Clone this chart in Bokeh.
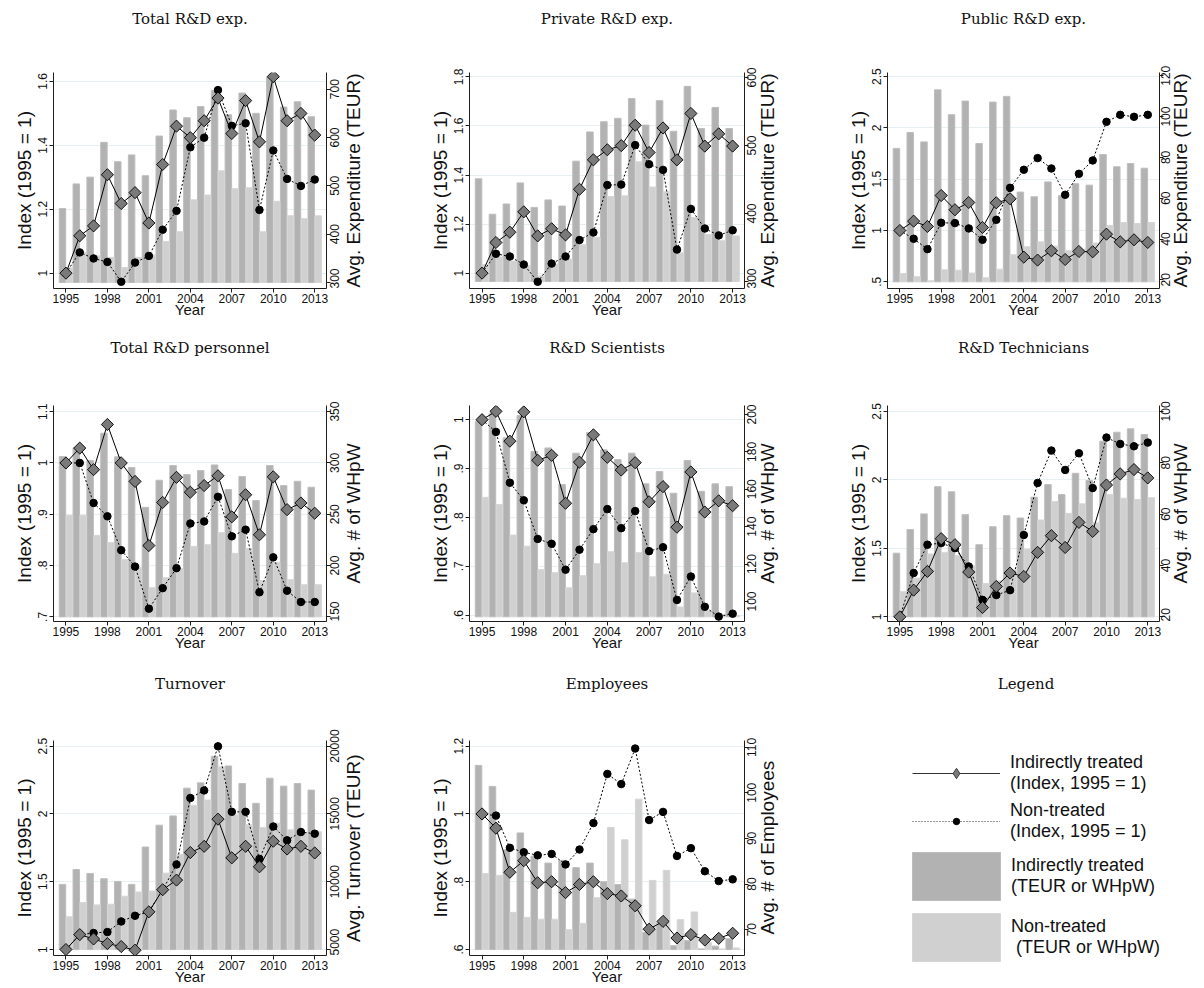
import math
from bokeh.plotting import figure
from bokeh.models import (Range1d, LinearAxis, FixedTicker, Legend, LegendItem,
                          ColumnDataSource, CustomJSTickFormatter)
from bokeh.layouts import row, column
from bokeh.embed import file_html
from bokeh.resources import INLINE

years = list(range(1995, 2014))
x_ticks = [1995, 1998, 2001, 2004, 2007, 2010, 2013]

# ---- Total R&D expenditure ----
tot_exp_ind_bar = [453, 504, 518, 590, 550, 564, 521, 603, 657, 641, 664, 697, 647, 692, 650, 725, 663, 674, 643]
tot_exp_non_bar = [330, 362, 355, 352, 331, 352, 357, 385, 405, 471, 481, 531, 494, 496, 405, 468, 438, 432, 438]
tot_exp_ind_idx = [1.0, 1.117, 1.148, 1.308, 1.218, 1.252, 1.157, 1.340, 1.460, 1.424, 1.477, 1.548, 1.437, 1.540, 1.411, 1.615, 1.477, 1.500, 1.432]
tot_exp_non_idx = [1.0, 1.065, 1.046, 1.035, 0.973, 1.033, 1.054, 1.136, 1.195, 1.394, 1.424, 1.573, 1.461, 1.469, 1.198, 1.384, 1.295, 1.273, 1.293]

# ---- Private R&D expenditure ----
priv_ind_bar = [451, 399, 414, 445, 409, 420, 411, 477, 520, 535, 540, 569, 530, 566, 521, 587, 525, 556, 525]
priv_non_bar = [325, 336, 330, 323, 308, 325, 333, 354, 365, 425, 426, 476, 439, 432, 342, 394, 369, 360, 367]
priv_ind_idx = [1.0, 1.125, 1.167, 1.250, 1.152, 1.181, 1.156, 1.342, 1.462, 1.503, 1.520, 1.603, 1.492, 1.592, 1.462, 1.651, 1.518, 1.568, 1.518]
priv_non_idx = [1.0, 1.079, 1.068, 1.035, 0.965, 1.039, 1.068, 1.135, 1.166, 1.359, 1.361, 1.522, 1.444, 1.421, 1.096, 1.262, 1.182, 1.154, 1.175]

# ---- Public R&D expenditure ----
pub_ind_bar = [84.4, 92.2, 87.6, 113.1, 100.9, 107.6, 86.8, 107.1, 109.9, 63.0, 60.7, 68.0, 61.2, 67.1, 66.4, 81.4, 75.4, 77.0, 74.7]
pub_non_bar = [23.1, 21.5, 19.5, 24.9, 24.7, 23.3, 21.0, 25.2, 32.3, 36.2, 38.6, 36.5, 34.2, 35.0, 38.0, 46.6, 48.1, 47.6, 48.1]
pub_ind_idx = [1.0, 1.091, 1.039, 1.341, 1.202, 1.273, 1.029, 1.270, 1.309, 0.740, 0.711, 0.802, 0.717, 0.795, 0.792, 0.964, 0.889, 0.909, 0.883]
pub_non_idx = [1.0, 0.919, 0.818, 1.075, 1.072, 1.020, 0.909, 1.104, 1.416, 1.592, 1.706, 1.605, 1.348, 1.553, 1.683, 2.060, 2.128, 2.109, 2.128]

# ---- Total R&D personnel ----
pers_ind_bar = [306.2, 314.6, 302.3, 328.9, 305.9, 295.4, 256.7, 283.1, 297.4, 288.6, 292.5, 298.0, 274.0, 286.7, 263.3, 297.4, 277.9, 282.1, 276.3]
pers_non_bar = [248.9, 248.9, 229.4, 222.3, 205.7, 198.2, 178.4, 188.1, 196.9, 218.7, 220.3, 232.0, 211.9, 216.7, 185.2, 203.1, 186.2, 181.3, 181.3]
pers_ind_idx = [1.0, 1.029, 0.987, 1.075, 1.0, 0.964, 0.839, 0.923, 0.972, 0.943, 0.956, 0.975, 0.895, 0.938, 0.860, 0.973, 0.909, 0.922, 0.902]
pers_non_idx = [1.0, 1.0, 0.922, 0.896, 0.830, 0.798, 0.716, 0.756, 0.795, 0.882, 0.886, 0.934, 0.857, 0.870, 0.748, 0.816, 0.751, 0.729, 0.729]

# ---- R&D scientists ----
sci_ind_bar = [196.4, 200.4, 187.5, 199.5, 180.2, 182.1, 162.5, 179.3, 190.4, 181.1, 175.9, 179.3, 162.9, 169.5, 157.9, 175.4, 158.9, 162.9, 161.4]
sci_non_bar = [155.7, 151.8, 135.5, 129.6, 117.0, 115.4, 107.3, 113.8, 120.2, 126.6, 120.7, 126.1, 113.2, 114.5, 97.1, 104.6, 95.0, 92.9, 92.5]
sci_ind_idx = [1.0, 1.017, 0.956, 1.016, 0.917, 0.927, 0.829, 0.913, 0.969, 0.923, 0.897, 0.912, 0.832, 0.863, 0.780, 0.893, 0.811, 0.834, 0.824]
sci_non_idx = [1.0, 0.975, 0.871, 0.835, 0.756, 0.746, 0.693, 0.734, 0.776, 0.817, 0.778, 0.813, 0.731, 0.739, 0.631, 0.679, 0.617, 0.597, 0.603]

# ---- R&D technicians ----
tech_ind_bar = [44.8, 54.0, 60.1, 70.7, 68.7, 59.8, 48.1, 55.1, 59.4, 58.5, 66.6, 71.5, 67.6, 75.9, 73.1, 88.4, 91.9, 93.2, 91.0]
tech_non_bar = [29.8, 35.1, 44.5, 45.0, 43.9, 39.9, 33.0, 34.0, 38.3, 46.4, 57.7, 64.9, 60.3, 64.0, 56.6, 67.6, 66.2, 65.7, 66.4]
tech_ind_idx = [1.0, 1.195, 1.332, 1.571, 1.527, 1.327, 1.068, 1.222, 1.320, 1.295, 1.471, 1.593, 1.507, 1.690, 1.624, 1.963, 2.044, 2.076, 2.015]
tech_non_idx = [1.0, 1.320, 1.527, 1.539, 1.502, 1.368, 1.124, 1.159, 1.195, 1.598, 1.978, 2.215, 2.073, 2.195, 1.941, 2.310, 2.263, 2.246, 2.273]

# ---- Turnover ----
turn_ind_bar = [9805, 10902, 10610, 10220, 10024, 9805, 12561, 14171, 14854, 16902, 17293, 19244, 18537, 17244, 15780, 17634, 17049, 17244, 16756]
turn_non_bar = [7415, 8463, 8293, 8341, 8927, 9244, 9317, 10634, 12000, 15634, 16024, 18463, 14927, 14200, 14000, 14317, 13829, 13585, 13683]
turn_ind_idx = [1.0, 1.110, 1.078, 1.044, 1.022, 0.995, 1.278, 1.441, 1.512, 1.715, 1.761, 1.961, 1.676, 1.761, 1.610, 1.798, 1.741, 1.761, 1.712]
turn_non_idx = [1.0, 1.110, 1.122, 1.129, 1.207, 1.249, 1.278, 1.440, 1.627, 2.117, 2.173, 2.498, 2.015, 2.015, 1.668, 1.907, 1.805, 1.866, 1.854]

# ---- Employees ----
emp_ind_bar = [106.0, 101.4, 87.5, 91.2, 86.1, 84.6, 85.2, 83.6, 84.6, 80.5, 79.9, 76.7, 69.4, 71.5, 66.5, 67.6, 65.8, 66.4, 68.0]
emp_non_bar = [82.3, 81.9, 73.8, 72.7, 72.3, 72.3, 70.0, 71.4, 77.0, 92.4, 89.7, 98.6, 80.8, 83.0, 72.2, 73.9, 67.2, 65.8, 66.0]
emp_ind_idx = [1.0, 0.958, 0.828, 0.862, 0.797, 0.800, 0.768, 0.792, 0.800, 0.765, 0.758, 0.729, 0.660, 0.683, 0.634, 0.644, 0.628, 0.633, 0.648]
emp_non_idx = [1.0, 0.995, 0.900, 0.887, 0.878, 0.882, 0.851, 0.895, 0.973, 1.118, 1.088, 1.193, 0.982, 1.006, 0.876, 0.899, 0.831, 0.802, 0.807]

DARK = "#b2b2b2"
DARK_EDGE = "#bdbdbd"
LIGHT = "#d0d0d0"
LIGHT_EDGE = "#d6d6d6"
GRID = "#e6eff1"
AXC = "#1e1e1e"
TXT = "#111111"
SANS = "Liberation Sans"
SERIF = "DejaVu Serif"

X0, X1 = 1994.1, 2013.85
# (figure width, left border, right border, right tick-label standoff, right title standoff)
COLS = [(400, 53, 74, 4, 7), (400, 69, 56, 3, 4), (404, 87, 43, 2, 3)]
# (figure height, top border, bottom border, title standoff)
ROWS = [(330, 72, 42, 45), (330, 75, 39, 49), (328, 80, 33, 48)]
FRAME_H = 216.0
DIGIT_W = 0.556 * 12
# approximate rendered lengths (px) of the right-axis titles at 19px
RLABEL_LEN = {"Avg. Expenditure (TEUR)": 214, "Avg. # of WHpW": 140,
              "Avg. Turnover (TEUR)": 189, "Avg. # of Employees": 174}

NEAREST_JS = """
let best = 0, bd = Infinity;
for (let i = 0; i < anchors.length; i++) {
  const d = Math.abs(anchors[i] - tick);
  if (d < bd) { bd = d; best = i; }
}
return labels[best];
"""


def lab(v):
    s = "%g" % v
    if s.startswith("0."):
        s = s[1:]
    return s


def style_axis(ax):
    ax.axis_line_color = AXC
    ax.major_tick_line_color = AXC
    ax.minor_tick_line_color = None
    ax.major_tick_out = 4
    ax.major_tick_in = 0
    ax.minor_tick_out = 0
    ax.minor_tick_in = 0
    ax.major_label_text_font = SANS
    ax.major_label_text_font_size = "12px"
    ax.major_label_text_color = TXT
    ax.axis_label_text_font = SANS
    ax.axis_label_text_font_style = "normal"
    ax.axis_label_text_color = TXT


def bare(ax):
    ax.axis_line_color = None
    ax.major_tick_line_color = None
    ax.minor_tick_line_color = None
    ax.major_tick_out = 0
    ax.major_tick_in = 0
    ax.minor_tick_out = 0
    ax.minor_tick_in = 0


def title_axis(p, text, standoff):
    t = LinearAxis(ticker=FixedTicker(ticks=[]))
    bare(t)
    t.major_label_standoff = 0
    t.axis_label = text
    t.axis_label_standoff = standoff
    t.axis_label_text_font = SERIF
    t.axis_label_text_font_size = "15px"
    t.axis_label_text_font_style = "normal"
    t.axis_label_text_color = TXT
    p.add_layout(t, "above")


def make_panel(title, ind_bar, non_bar, ind_idx, non_idx, lr, rr, base, lt, rt, rlabel, col, rw):
    w, bl, br, ts, cs = COLS[col]
    h, bt, bb, so = ROWS[rw]
    p = figure(width=w, height=h, x_range=Range1d(X0, X1), y_range=Range1d(*lr),
               output_backend="svg", toolbar_location=None,
               min_border_left=bl, min_border_right=br, min_border_top=bt, min_border_bottom=bb)
    p.outline_line_color = None
    p.extra_y_ranges = {"r": Range1d(*rr)}
    src = ColumnDataSource(dict(year=years,
                                xd=[y - 0.25 for y in years],
                                xl=[y + 0.25 for y in years],
                                ind_bar=ind_bar, non_bar=non_bar,
                                ind_idx=ind_idx, non_idx=non_idx))
    p.vbar(x="xd", top="ind_bar", bottom=base, width=0.47, y_range_name="r", source=src,
           fill_color=DARK, line_color=DARK_EDGE, line_width=1)
    p.vbar(x="xl", top="non_bar", bottom=base, width=0.47, y_range_name="r", source=src,
           fill_color=LIGHT, line_color=LIGHT_EDGE, line_width=1)
    p.line("year", "non_idx", source=src, line_color="black", line_width=1, line_dash="2 2")
    p.scatter("year", "non_idx", source=src, marker="circle", size=7.5,
              fill_color="black", line_color="black")
    p.line("year", "ind_idx", source=src, line_color="black", line_width=1)
    p.scatter("year", "ind_idx", source=src, marker="square", angle=math.pi / 4, size=8.6,
              fill_color="#7a7a7a", line_color="black", line_width=0.9)

    xa = p.xaxis[0]
    ya = p.yaxis[0]
    style_axis(xa)
    style_axis(ya)
    xa.ticker = FixedTicker(ticks=x_ticks)
    xa.major_label_standoff = 1
    xa.axis_label = "Year"
    xa.axis_label_text_font_size = "15px"
    xa.axis_label_standoff = -5

    ya.ticker = FixedTicker(ticks=lt)
    ya.major_label_overrides = {t: lab(t) for t in lt}
    ya.major_label_orientation = "vertical"
    ya.major_label_standoff = 2
    ya.axis_label = "Index (1995 = 1)"
    ya.axis_label_text_font_size = "19px"
    ya.axis_label_standoff = 1

    # right axis line + tick marks (minor ticks => no label slots)
    ra = LinearAxis(y_range_name="r", ticker=FixedTicker(ticks=[], minor_ticks=rt))
    style_axis(ra)
    ra.major_tick_line_color = None
    ra.major_tick_out = 0
    ra.minor_tick_line_color = AXC
    ra.minor_tick_out = 4
    ra.major_label_standoff = 0
    p.add_layout(ra, "right")

    # right tick labels, rotated to read bottom-to-top, anchored so each is centred on its tick
    span = rr[1] - rr[0]
    per_px = span / FRAME_H
    eps = span * 1e-4
    anchors = [min(max(t - len(str(t)) * DIGIT_W / 2.0 * per_px, rr[0] + eps), rr[1] - eps) for t in rt]
    rb = LinearAxis(y_range_name="r", ticker=FixedTicker(ticks=anchors))
    style_axis(rb)
    bare(rb)
    rb.formatter = CustomJSTickFormatter(args=dict(anchors=anchors, labels=[str(t) for t in rt]),
                                         code=NEAREST_JS)
    rb.major_label_orientation = math.pi / 2
    rb.major_label_standoff = ts
    p.add_layout(rb, "right")

    # right axis title, same rotation, centred on the frame
    a_c = max((rr[0] + rr[1]) / 2.0 - RLABEL_LEN[rlabel] / 2.0 * per_px, rr[0] + eps)
    rc = LinearAxis(y_range_name="r", ticker=FixedTicker(ticks=[a_c]))
    style_axis(rc)
    bare(rc)
    rc.formatter = CustomJSTickFormatter(args=dict(anchors=[a_c], labels=[rlabel]), code=NEAREST_JS)
    rc.major_label_orientation = math.pi / 2
    rc.major_label_text_font_size = "19px"
    rc.major_label_standoff = cs
    p.add_layout(rc, "right")

    p.xgrid.grid_line_color = None
    p.ygrid.ticker = FixedTicker(ticks=lt)
    p.ygrid.grid_line_color = GRID
    p.ygrid.grid_line_width = 1

    title_axis(p, title, so)
    return p


p1 = make_panel("Total R&D exp.", tot_exp_ind_bar, tot_exp_non_bar, tot_exp_ind_idx, tot_exp_non_idx,
                (0.952, 1.628), (287.6, 734.5), 300, [1, 1.2, 1.4, 1.6], [300, 400, 500, 600, 700],
                "Avg. Expenditure (TEUR)", 0, 0)
p2 = make_panel("Private R&D exp.", priv_ind_bar, priv_non_bar, priv_ind_idx, priv_non_idx,
                (0.9375, 1.818), (289.7, 607.4), 300, [1, 1.2, 1.4, 1.6, 1.8], [300, 400, 500, 600],
                "Avg. Expenditure (TEUR)", 1, 0)
p3 = make_panel("Public R&D exp.", pub_ind_bar, pub_non_bar, pub_ind_idx, pub_non_idx,
                (0.434, 2.541), (15.75, 121.6), 19.0, [0.5, 1, 1.5, 2, 2.5], [20, 40, 60, 80, 100, 120],
                "Avg. Expenditure (TEUR)", 2, 0)
p4 = make_panel("Total R&D personnel", pers_ind_bar, pers_non_bar, pers_ind_idx, pers_non_idx,
                (0.691, 1.112), (145.5, 355.9), 150, [0.7, 0.8, 0.9, 1, 1.1], [150, 200, 250, 300, 350],
                "Avg. # of WHpW", 0, 1)
p5 = make_panel("R&D Scientists", sci_ind_bar, sci_non_bar, sci_ind_idx, sci_non_idx,
                (0.587, 1.029), (89.3, 204.8), 91.8, [0.6, 0.7, 0.8, 0.9, 1], [100, 120, 140, 160, 180, 200],
                "Avg. # of WHpW", 1, 1)
p6 = make_panel("R&D Technicians", tech_ind_bar, tech_non_bar, tech_ind_idx, tech_non_idx,
                (0.966, 2.544), (18.2, 102.3), 20, [1, 1.5, 2, 2.5], [20, 40, 60, 80, 100],
                "Avg. # of WHpW", 2, 1)
p7 = make_panel("Turnover", turn_ind_bar, turn_non_bar, turn_ind_idx, turn_non_idx,
                (0.956, 2.541), (4561, 20415), 5000, [1, 1.5, 2, 2.5], [5000, 10000, 15000, 20000],
                "Avg. Turnover (TEUR)", 0, 2)
p8 = make_panel("Employees", emp_ind_bar, emp_non_bar, emp_ind_idx, emp_non_idx,
                (0.5824, 1.2166), (64.35, 111.45), 65.65, [0.6, 0.8, 1, 1.2], [70, 80, 90, 100, 110],
                "Avg. # of Employees", 1, 2)

# ---- Legend panel ----
LP_BOTTOM = 20
lp = figure(width=404, height=328, x_range=Range1d(0, 1), y_range=Range1d(0, 1),
            output_backend="svg", toolbar_location=None,
            x_axis_location=None, y_axis_location=None,
            min_border_left=87, min_border_right=40, min_border_top=80, min_border_bottom=LP_BOTTOM)
lp.grid.visible = False
lp.outline_line_color = None
title_axis(lp, "Legend", 48)

key = ColumnDataSource(dict(x=[0.5], y=[0.5], top=[0.5]))
r1l = lp.line("x", "y", source=key, line_color="#333333", line_width=1, visible=False)
r1m = lp.scatter("x", "y", source=key, marker="diamond", fill_color="#7a7a7a",
                 line_color="#333333", line_width=0.9, visible=False)
r2l = lp.line("x", "y", source=key, line_color="#333333", line_width=1, line_dash="1 2", visible=False)
r2m = lp.scatter("x", "y", source=key, marker="circle", fill_color="black", line_color="black", visible=False)
r3 = lp.vbar(x="x", top="top", width=0.1, source=key, fill_color=DARK, line_color=DARK_EDGE, visible=False)
r4 = lp.vbar(x="x", top="top", width=0.1, source=key, fill_color=LIGHT, line_color=LIGHT_EDGE, visible=False)

common = dict(padding=0, margin=0, label_text_font=SANS, label_text_font_size="18px",
              label_text_color=TXT, border_line_color=None, background_fill_alpha=0,
              inactive_fill_alpha=0)
# legend boxes placed by their bottom edge, measured up from the bottom of the frame
fb = 328 - LP_BOTTOM
legA1 = Legend(items=[LegendItem(label="Indirectly treated\n(Index, 1995 = 1)", renderers=[r1l, r1m])],
               location=(25, fb - 134), glyph_width=88, glyph_height=26,
               label_standoff=10, **common)
legA2 = Legend(items=[LegendItem(label="Non-treated\n(Index, 1995 = 1)", renderers=[r2l, r2m])],
               location=(25, fb - 182), glyph_width=88, glyph_height=16,
               label_standoff=10, **common)
legB = Legend(items=[LegendItem(label="Indirectly treated\n(TEUR or WHpW)", renderers=[r3]),
                     LegendItem(label="Non-treated\n (TEUR or WHpW)", renderers=[r4])],
              location=(14, fb - 307), glyph_width=110, glyph_height=60, spacing=1,
              label_standoff=0, **common)
lp.add_layout(legA1, "center")
lp.add_layout(legA2, "center")
lp.add_layout(legB, "center")

layout = column(row(p1, p2, p3), row(p4, p5, p6), row(p7, p8, column(lp)))
open("out.html", "w").write(file_html(layout, INLINE))
